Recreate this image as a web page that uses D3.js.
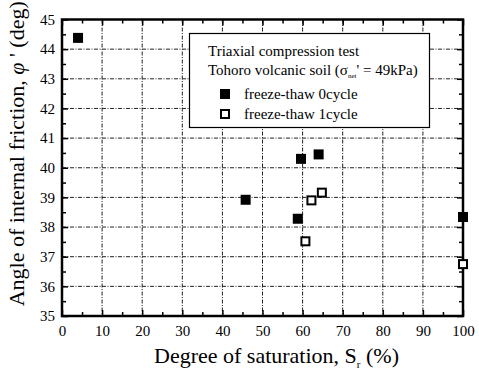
<!DOCTYPE html>
<html><head><meta charset="utf-8">
<script src="https://cdn.jsdelivr.net/npm/d3@7"></script>
<style>body{margin:0;background:#fff}svg{display:block}text{font-family:"Liberation Serif","Times New Roman",serif}</style>
</head><body><svg id="c" width="479" height="371"></svg>
<script>
const seriesNames = ["freeze-thaw 0cycle", "freeze-thaw 1cycle"];
const sr0 = [4, 45.8, 58.8, 59.6, 64.0, 100];
const phi0 = [44.38, 38.92, 38.28, 40.3, 40.45, 38.34];
const sr1 = [60.7, 62.2, 64.8, 100];
const phi1 = [37.52, 38.9, 39.16, 36.75];
const xTicks = [0,10,20,30,40,50,60,70,80,90,100];
const yTicks = [35,36,37,38,39,40,41,42,43,44,45];

const svg = d3.select("#c");
const L = 62, R = 463, T = 19.5, B = 316;
const x = d3.scaleLinear().domain([0,100]).range([L,R]);
const y = d3.scaleLinear().domain([35,45]).range([B,T]);
const serif = '"Liberation Serif","Times New Roman",serif';

// grid
const g = svg.append("g");
g.selectAll(".gx").data(xTicks.slice(1,-1)).join("line")
  .attr("x1", d=>x(d)).attr("x2", d=>x(d)).attr("y1", T).attr("y2", B)
  .attr("stroke", "#222").attr("stroke-width", 1).attr("stroke-dasharray", "4,1.5,1,1.5");
g.selectAll(".gy").data(yTicks.slice(1,-1)).join("line")
  .attr("y1", d=>y(d)).attr("y2", d=>y(d)).attr("x1", L).attr("x2", R)
  .attr("stroke", "#222").attr("stroke-width", 1).attr("stroke-dasharray", "4,1.5,1,1.5");

// axes
const fs = 15;
const ax = svg.append("g").attr("transform", `translate(0,${B})`)
  .call(d3.axisBottom(x).tickValues(xTicks).tickSize(-6).tickPadding(9).tickSizeOuter(0));
const axm = svg.append("g").attr("transform", `translate(0,${B})`)
  .call(d3.axisBottom(x).tickValues(d3.range(5,100,10)).tickSize(-4).tickFormat("").tickSizeOuter(0));
const axt = svg.append("g").attr("transform", `translate(0,${T})`)
  .call(d3.axisTop(x).tickValues(xTicks).tickSize(-6).tickFormat("").tickSizeOuter(0));
const axtm = svg.append("g").attr("transform", `translate(0,${T})`)
  .call(d3.axisTop(x).tickValues(d3.range(5,100,10)).tickSize(-4).tickFormat("").tickSizeOuter(0));
const ay = svg.append("g").attr("transform", `translate(${L},0)`)
  .call(d3.axisLeft(y).tickValues(yTicks).tickSize(-6).tickPadding(9).tickSizeOuter(0));
const aym = svg.append("g").attr("transform", `translate(${L},0)`)
  .call(d3.axisLeft(y).tickValues(d3.range(35.5,45,1)).tickSize(-4).tickFormat("").tickSizeOuter(0));
const ayr = svg.append("g").attr("transform", `translate(${R},0)`)
  .call(d3.axisRight(y).tickValues(yTicks).tickSize(-6).tickFormat("").tickSizeOuter(0));
const ayrm = svg.append("g").attr("transform", `translate(${R},0)`)
  .call(d3.axisRight(y).tickValues(d3.range(35.5,45,1)).tickSize(-4).tickFormat("").tickSizeOuter(0));
[ax,axm,axt,axtm,ay,aym,ayr,ayrm].forEach(a=>{
  a.attr("font-family", serif).attr("font-size", fs);
  a.select(".domain").remove();
  a.selectAll(".tick line").attr("stroke","#000").attr("stroke-width",1.5);
  a.selectAll("text").attr("fill","#000");
});
ay.selectAll("text").attr("dx", 2);

// frame
svg.append("rect").attr("x",L).attr("y",T).attr("width",R-L).attr("height",B-T)
  .attr("fill","none").attr("stroke","#000").attr("stroke-width",2.5);

// points
const ms = 10;
svg.append("g").selectAll("rect").data(sr0.map((d,i)=>[d,phi0[i]])).join("rect")
  .attr("x", d=>x(d[0])-ms/2).attr("y", d=>y(d[1])-ms/2).attr("width",ms).attr("height",ms)
  .attr("fill","#000");
svg.append("g").selectAll("rect").data(sr1.map((d,i)=>[d,phi1[i]])).join("rect")
  .attr("x", d=>x(d[0])-ms/2+1).attr("y", d=>y(d[1])-ms/2+1).attr("width",ms-2).attr("height",ms-2)
  .attr("fill","#fff").attr("stroke","#000").attr("stroke-width",2);

// legend
const lg = svg.append("g").attr("font-family", serif);
lg.append("rect").attr("x",189.5).attr("y",33.5).attr("width",240).attr("height",94)
  .attr("fill","#fff").attr("stroke","#000").attr("stroke-width",1.2);
lg.append("text").attr("x",208).attr("y",56).attr("font-size",15).text("Triaxial compression test");
const t2 = lg.append("text").attr("x",208).attr("y",75).attr("font-size",15);
t2.append("tspan").text("Tohoro volcanic soil (σ");
t2.append("tspan").attr("font-size",7).attr("dy",3).text("net");
t2.append("tspan").attr("dy",-3).text("' = 49kPa)");
lg.append("rect").attr("x",220).attr("y",89).attr("width",10).attr("height",10).attr("fill","#000");
lg.append("rect").attr("x",221).attr("y",110).attr("width",8).attr("height",8).attr("fill","#fff").attr("stroke","#000").attr("stroke-width",2);
lg.append("text").attr("x",244).attr("y",99).attr("font-size",15).text(seriesNames[0]);
lg.append("text").attr("x",244).attr("y",119).attr("font-size",15).text(seriesNames[1]);

// axis titles
const xt = svg.append("text").attr("x", (L+R)/2+14).attr("y", 363).attr("text-anchor","middle").attr("font-size",22).attr("font-family", serif);
xt.append("tspan").text("Degree of saturation, S");
xt.append("tspan").attr("font-size",11).attr("dy",5).text("r");
xt.append("tspan").attr("dy",-5).text(" (%)");
const yt = svg.append("text").attr("transform",`translate(24,${(T+B)/2-14}) rotate(-90)`).attr("text-anchor","middle").attr("font-size",22).attr("font-family", serif);
yt.append("tspan").text("Angle of internal friction, ");
yt.append("tspan").attr("font-style","italic").text("φ");
yt.append("tspan").text(" ' (deg)");
</script></body></html>
